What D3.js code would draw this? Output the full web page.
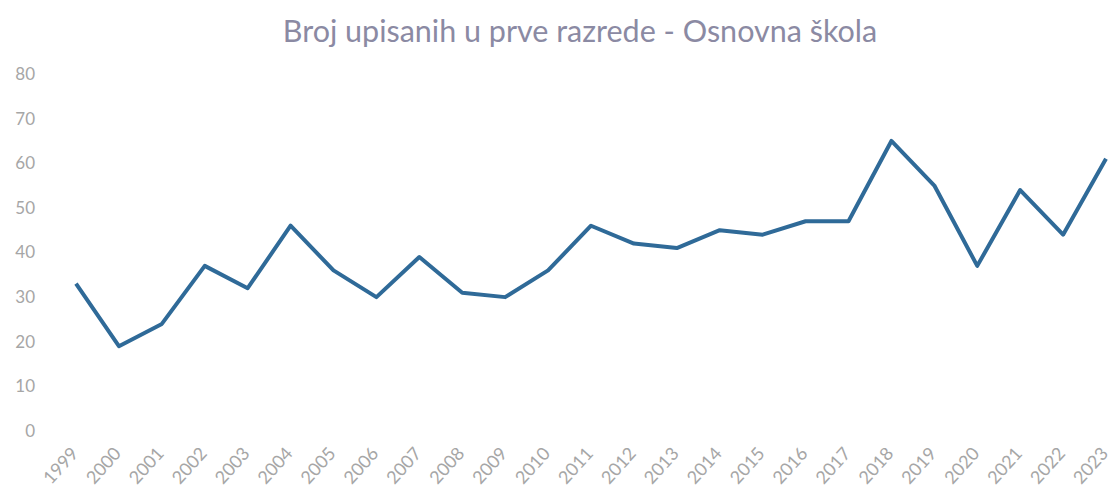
<!DOCTYPE html>
<html>
<head>
<meta charset="utf-8">
<script src="https://cdn.jsdelivr.net/npm/d3@7"></script>
<style>
  html, body { margin: 0; padding: 0; background: #ffffff; }
  svg { display: block; }
</style>
</head>
<body>
<svg id="chart" width="1112" height="495"></svg>
<script>
const title = "Broj upisanih u prve razrede - Osnovna škola";
const years = ["1999","2000","2001","2002","2003","2004","2005","2006","2007","2008","2009","2010","2011","2012","2013","2014","2015","2016","2017","2018","2019","2020","2021","2022","2023"];
const values = [33, 19, 24, 37, 32, 46, 36, 30, 39, 31, 30, 36, 46, 42, 41, 45, 44, 47, 47, 65, 55, 37, 54, 44, 61];
const yTicks = [0, 10, 20, 30, 40, 50, 60, 70, 80];

const svg = d3.select("#chart");

const x = d3.scalePoint().domain(years).range([76, 1106]);
const y = d3.scaleLinear().domain([0, 80]).range([431, 74]);

svg.append("text")
  .attr("x", 580).attr("y", 42)
  .attr("text-anchor", "middle")
  .attr("font-family", "Lato, 'Open Sans', sans-serif")
  .attr("font-size", 30.5)
  .attr("fill", "#8b8aa3")
  .text(title);

const yAxis = svg.append("g")
  .attr("transform", "translate(35,0)")
  .call(d3.axisLeft(y).tickValues(yTicks).tickSize(0).tickPadding(0));
yAxis.select(".domain").remove();
yAxis.selectAll("text")
  .attr("font-family", "Lato, 'Open Sans', sans-serif")
  .attr("font-size", 17)
  .attr("fill", "#a6a6a6");

const xAxis = svg.append("g")
  .attr("transform", "translate(0,440)")
  .call(d3.axisBottom(x).tickSize(0).tickPadding(0));
xAxis.select(".domain").remove();
xAxis.selectAll("text")
  .attr("font-family", "Lato, 'Open Sans', sans-serif")
  .attr("font-size", 18)
  .attr("fill", "#a6a6a6")
  .attr("text-anchor", "end")
  .attr("y", 0)
  .attr("dy", "0.35em")
  .attr("transform", "translate(-2,10) rotate(-48)");

const line = d3.line()
  .x((d, i) => x(years[i]))
  .y(d => y(d));

svg.append("path")
  .datum(values)
  .attr("d", line)
  .attr("fill", "none")
  .attr("stroke", "#2f6a98")
  .attr("stroke-width", 4)
  .attr("stroke-linejoin", "round");
</script>
</body>
</html>
